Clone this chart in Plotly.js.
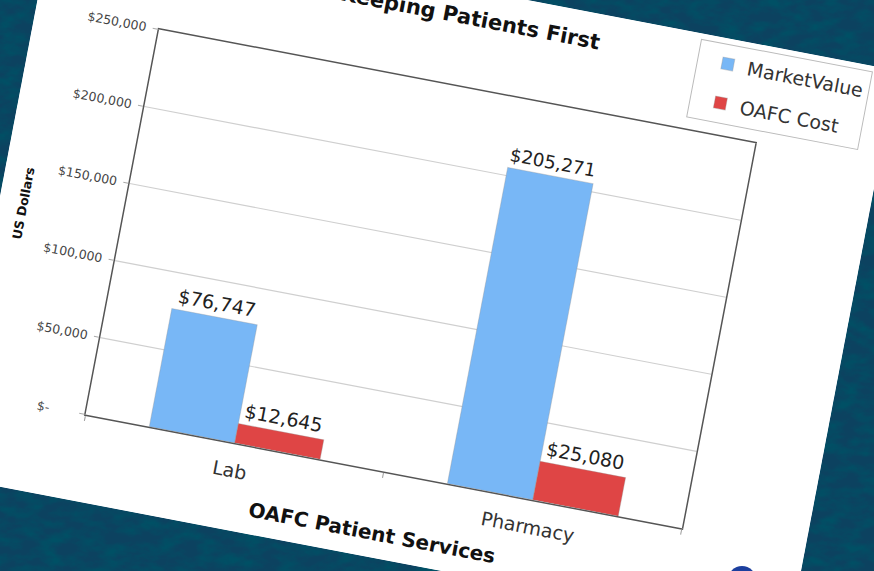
<!DOCTYPE html>
<html>
<head>
<meta charset="utf-8">
<script src="https://cdn.plot.ly/plotly-3.0.1.min.js"></script>
<style>
  html, body { margin:0; padding:0; width:874px; height:571px; overflow:hidden; background:#0b3a52; }
  #bg { position:absolute; left:0; top:0; }
  #card { position:absolute; left:-6.6px; top:-14.7px; width:857px; height:577px; background:#fff;
          transform:rotate(10.8deg); transform-origin:50% 50%; overflow:hidden; }
  #chart { width:857px; height:577px; }
  #chart svg * { shape-rendering:geometricPrecision !important; }
  #logo { position:absolute; left:728px; top:566px; width:28px; height:28px; border-radius:50%; background:#1c3f9e; }
</style>
</head>
<body>
<svg id="bg" width="874" height="571">
  <filter id="n">
    <feTurbulence type="fractalNoise" baseFrequency="0.05 0.09" numOctaves="5" seed="7"/>
    <feColorMatrix type="matrix" values="0 0 0 0 0.0  0 0 0 0 0.08  0 0 0 0 0.13  2.2 0 0 0 -0.75"/>
  </filter>
  <rect width="874" height="571" fill="#0c4260"/>
  <rect width="874" height="571" filter="url(#n)"/>
</svg>
<div id="card"><div id="chart"></div></div>
<div id="logo"></div>
<script>
// ---- data ----
const categories = ['Lab', 'Pharmacy'];
const marketValue = [76747, 205271];
const oafcCost = [12645, 25080];
const seriesNames = ['MarketValue', 'OAFC Cost'];
const yTickVals = [0, 50000, 100000, 150000, 200000, 250000];
const yTickText = ['$-\u00A0\u00A0\u00A0\u00A0\u00A0\u00A0', '$50,000', '$100,000', '$150,000', '$200,000', '$250,000'];
const chartTitle = 'Keeping Patients First';
const xTitle = 'OAFC Patient Services';
const yTitle = 'US Dollars';

const font = 'DejaVu Sans, Verdana, sans-serif';

const traces = [
  { type:'bar', name:seriesNames[0], x:categories, y:marketValue, legendgroup:'a',
    marker:{ color:'#78b7f6', line:{ color:'rgba(150,150,150,0.35)', width:1 } },
    texttemplate:'$%{y:,}', textposition:'outside', cliponaxis:false,
    textfont:{ size:19, color:'#222', family:font }, hoverinfo:'none' },
  { type:'bar', name:seriesNames[1], x:categories, y:oafcCost, legendgroup:'b',
    marker:{ color:'#df4545', line:{ color:'rgba(150,150,150,0.35)', width:1 } },
    texttemplate:'$%{y:,}', textposition:'outside', cliponaxis:false,
    textfont:{ size:19, color:'#222', family:font }, hoverinfo:'none' }
];

const layout = {
  width:857, height:577,
  margin:{ l:125, r:125, t:98, b:87, pad:0, autoexpand:false },
  paper_bgcolor:'#ffffff', plot_bgcolor:'#ffffff',
  font:{ family:font, color:'#333' },
  barmode:'group', bargap:0.427, bargroupgap:0,
  title:{ text:'<b>' + chartTitle + '</b>', font:{ size:21, color:'#111', family:font },
          x:0.5, xref:'paper', xanchor:'center', y:0.9515, yref:'container', yanchor:'middle', automargin:false },
  xaxis:{ type:'category', showgrid:false, showline:true, linecolor:'#555', linewidth:1.5, mirror:true,
          ticks:'outside', tickson:'boundaries', ticklen:5, tickcolor:'#999', automargin:false,
          tickfont:{ size:19, color:'#333', family:font }, ticklabelstandoff:10,
          title:{ text:'<b>' + xTitle + '</b>', font:{ size:20, color:'#111', family:font }, standoff:18 } },
  yaxis:{ range:[0, 250000], tickvals:yTickVals, ticktext:yTickText, showgrid:true, gridcolor:'#cfcfcf', gridwidth:1.2,
          showline:true, linecolor:'#555', linewidth:1.5, mirror:true, zeroline:false, automargin:false,
          ticks:'outside', ticklen:5, tickcolor:'#aaa',
          tickfont:{ size:12.5, color:'#444', family:font }, ticklabelstandoff:4,
          title:{ text:'<b>' + yTitle + '</b>', font:{ size:12.5, color:'#111', family:font }, standoff:20 } },
  showlegend:true,
  legend:{ x:0.88, xanchor:'left', y:1.236, yanchor:'top', bgcolor:'#ffffff', bordercolor:'#bbbbbb', borderwidth:1,
           font:{ size:19, color:'#333', family:font }, traceorder:'grouped', tracegroupgap:12, indentation:10 }
};

Plotly.newPlot('chart', traces, layout, { staticPlot:true, displayModeBar:false });
</script>
</body>
</html>
